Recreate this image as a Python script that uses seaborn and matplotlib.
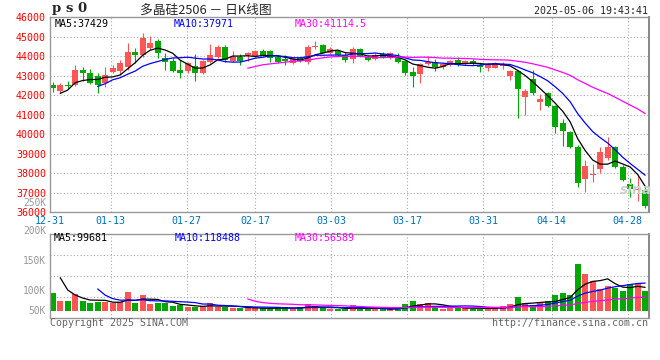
import numpy as np
import pandas as pd
import matplotlib
matplotlib.use("Agg")
import matplotlib.pyplot as plt
import seaborn as sns

# ---------------- data ----------------
holidays = ['2025-01-01', '2025-01-28', '2025-01-29', '2025-01-30', '2025-01-31',
            '2025-02-03', '2025-02-04', '2025-04-04', '2025-05-01', '2025-05-02', '2025-05-05']
_days = pd.bdate_range('2024-12-31', '2025-05-06')
dates = [d.strftime('%m-%d') for d in _days if d.strftime('%Y-%m-%d') not in holidays]

opens = [42536, 42212, 42520, 42518, 43286, 43116, 42981, 42604, 43201, 43252,
         43424, 44227, 44056, 44398, 44773, 43919, 43765, 43286, 43252, 43492,
         43150, 43696, 43935, 44480, 43764, 43935, 44054, 44020, 44259, 44259,
         43935, 43850, 43628, 43884, 43713, 44446, 44549, 44173, 44259, 44054,
         43833, 44361, 43969, 43833, 44105, 43884, 43884, 43747, 43200, 43064,
         43610, 43713, 43423, 43542, 43798, 43610, 43764, 43542, 43406, 43406,
         43491, 42996, 43235, 41920, 42825, 41630, 42091, 41442, 40589, 40111,
         39360, 37705, 37927, 38217, 38797, 39360, 38336, 37449, 37124, 37141]
highs = [42690, 42604, 42720, 43543, 43424, 43320, 43116, 43424, 43543, 43799,
         44654, 44432, 45200, 45030, 44859, 44142, 43885, 43799, 43714, 44088,
         43798, 44617, 44566, 44566, 44276, 44105, 44224, 44310, 44361, 44293,
         44054, 44054, 43884, 43969, 44566, 44771, 44600, 44446, 44327, 44224,
         44480, 44429, 44054, 44139, 44190, 44190, 44139, 43798, 43423, 43628,
         44003, 43833, 43628, 43798, 43935, 43798, 43833, 43628, 43628, 43713,
         43713, 43286, 43286, 42313, 43286, 42040, 42142, 41493, 40760, 40162,
         39445, 38677, 38472, 39326, 39855, 39394, 38421, 37739, 37875, 37312]
lows = [42177, 42092, 42300, 42468, 42724, 42570, 42092, 42400, 43116, 43031,
        43286, 43628, 43970, 44312, 43885, 43286, 43201, 42894, 43116, 42740,
        43081, 43628, 43900, 43713, 43696, 43542, 43764, 43969, 44020, 43713,
        43628, 43542, 43594, 43713, 43594, 44344, 44139, 44105, 44003, 43713,
        43662, 43969, 43747, 43798, 43884, 43833, 43628, 43030, 42432, 42637,
        43542, 43235, 43320, 43508, 43491, 43542, 43525, 43200, 43252, 43372,
        43320, 42774, 40811, 40982, 42006, 41238, 41374, 40043, 39411, 39275,
        37312, 37056, 37568, 37995, 38677, 38251, 37619, 36800, 36595, 36237]
closes = [42382, 42502, 42450, 43286, 43116, 42638, 42518, 43014, 43372, 43628,
          44210, 44073, 44927, 44654, 44176, 43714, 43252, 43150, 43628, 43150,
          43764, 44054, 44446, 43798, 43935, 43764, 44139, 44259, 44054, 43900,
          43713, 43747, 43850, 43764, 44446, 44515, 44173, 44344, 44054, 43798,
          44344, 44020, 43798, 44071, 43969, 44139, 43713, 43150, 42996, 43576,
          43713, 43457, 43576, 43764, 43542, 43747, 43576, 43457, 43542, 43662,
          43576, 43235, 42313, 42228, 42091, 41801, 41442, 40384, 40162, 39360,
          37517, 38387, 37961, 39104, 39360, 38302, 37653, 37176, 37192, 36322]
volumes = [76700, 42000, 42000, 72000, 42000, 33000, 39000, 39000, 32000, 39000,
           81000, 33000, 68000, 29000, 33000, 33000, 20000, 23000, 14500, 16000,
           20000, 33000, 16000, 16000, 13000, 13000, 10000, 10000, 10000, 10000,
           14500, 14500, 7000, 14500, 29000, 19000, 10000, 7000, 7000, 7000,
           24600, 7000, 7000, 7000, 7000, 6000, 14500, 29000, 42000, 29000,
           33000, 14500, 9000, 12000, 12000, 12000, 9000, 9000, 9000, 14500,
           19000, 29000, 59000, 33000, 25000, 33000, 40000, 68000, 77000, 68000,
           202600, 159000, 129000, 94000, 107000, 97000, 85000, 118000, 122000, 85000]
# sessions before the first shown day (12-26, 12-27, 12-30), used only for the moving averages
pre_close = [41600, 41400, 42560]
pre_volume = [309000, 182000, 107000]

tick_labels = ['12-31', '01-13', '01-27', '02-17', '03-03', '03-17', '03-31', '04-14', '04-28']

title_text = '多晶硅2506 － 日K线图'
code_text = 'p s 0'
time_text = '2025-05-06 19:43:41'
ma_price_text = ['MA5:37429', 'MA10:37971', 'MA30:41114.5']
ma_vol_text = ['MA5:99681', 'MA10:118488', 'MA30:56589']
vol_axis_labels = ['250K', '200K', '150K', '100K', '50K']

# ---------------- derived ----------------
n = len(closes)
x = np.arange(n)
full_close = pd.Series(pre_close + closes, dtype=float)
full_vol = pd.Series(pre_volume + volumes, dtype=float)
k0 = len(pre_close)
ma_p = {w: full_close.rolling(w).mean().iloc[k0:].to_numpy() for w in (5, 10, 30)}
ma_v = {w: full_vol.rolling(w).mean().iloc[k0:].to_numpy() for w in (5, 10, 30)}

o = np.array(opens, float); c = np.array(closes, float)
h = np.array(highs, float); l = np.array(lows, float)
up = c >= o
RED, GREEN = '#FF5555', '#00A800'
cols = np.where(up, RED, GREEN)

# ---------------- figure ----------------
sns.set_style('white')
plt.rcParams['font.family'] = ['DejaVu Sans Mono', 'Noto Sans CJK SC']
W, H = 660, 360
fig = plt.figure(figsize=(W / 100, H / 100), dpi=100)

def rect(l_px, t_px, r_px, b_px):
    return [l_px / W, 1 - b_px / H, (r_px - l_px) / W, (b_px - t_px) / H]

ax = fig.add_axes(rect(50, 17, 649.3, 212.3))
axv = fig.add_axes(rect(50, 234.3, 649.3, 318.3))

XL = (-0.36, 79.55)
grid_step = 7.6 / 7.5
tick_idx = [dates.index(t) for t in tick_labels]
tick_x = [i * grid_step - 0.36 for i in tick_idx]
grid_kw = dict(color='#aaaaaa', lw=0.8, ls=(0, (1, 2)), zorder=0)

# --- price panel ---
ax.vlines(x, l, h, colors=cols, lw=0.8, zorder=2)
body_h = np.maximum(np.abs(c - o), 45)
ax.bar(x, body_h, bottom=np.minimum(o, c), width=0.78, color=cols, linewidth=0, zorder=3)
for w, colr in ((5, 'black'), (10, '#0000FF'), (30, '#FF00FF')):
    sns.lineplot(x=x, y=ma_p[w], ax=ax, color=colr, lw=0.9, legend=False, zorder=4)
ax.set_xlim(*XL)
ax.set_ylim(36000, 46000)
ax.set_yticks(range(36000, 46001, 1000))
ax.set_yticklabels([str(v) for v in range(36000, 46001, 1000)], color='#FF0000', fontsize=7.2)
for yv in range(37000, 46000, 1000):
    ax.axhline(yv, **grid_kw)
for tx in tick_x[1:]:
    ax.axvline(tx, **grid_kw)
ax.set_xticks(tick_x)
ax.set_xticklabels(tick_labels, color='#0070C0', fontsize=7.2)
ax.tick_params(axis='both', length=0, pad=3)
ax.set_xlabel(''); ax.set_ylabel('')

# --- volume panel ---
axv.bar(x, volumes, width=0.78, color=cols, linewidth=0, zorder=3)
for w, colr in ((5, 'black'), (10, '#0000FF'), (30, '#FF00FF')):
    sns.lineplot(x=x, y=ma_v[w], ax=axv, color=colr, lw=0.9, legend=False, zorder=4)
axv.set_xlim(*XL)
vlo, vhi = -32984, 331576
axv.set_ylim(vlo, vhi)
for q in (0.25, 0.5, 0.75):
    axv.axhline(vlo + (vhi - vlo) * q, **grid_kw)
for tx in tick_x[1:]:
    axv.axvline(tx, **grid_kw)
axv.set_xticks([]); axv.set_yticks([])
axv.set_xlabel(''); axv.set_ylabel('')

for a in (ax, axv):
    for s in a.spines.values():
        s.set_color('#999999'); s.set_linewidth(1.0)
        s.set_zorder(5)
    a.spines['right'].set_color('#888888'); a.spines['right'].set_linewidth(1.4)

# --- texts ---
def ftext(xp, yp, s, **kw):
    fig.text(xp / W, 1 - yp / H, s, **kw)

mono = dict(fontsize=7.2, va='center')
ftext(52, 8.5, code_text, fontsize=9.5, fontweight='bold', va='center', family=['DejaVu Serif'])
ftext(206, 10, title_text, fontsize=9.2, ha='center', va='center',
      family=['Noto Sans CJK SC', 'DejaVu Sans'])
ftext(648, 11.5, time_text, ha='right', **mono)
for xp, s, colr in zip((55, 174, 295), ma_price_text, ('black', '#0000FF', '#FF00FF')):
    ftext(xp, 24, s, color=colr, **mono)
for xp, s, colr in zip((54, 175, 295), ma_vol_text, ('black', '#0000FF', '#FF00FF')):
    ftext(xp, 238, s, color=colr, **mono)
for yp, s in zip((202.5, 231, 260.7, 291, 311), vol_axis_labels):
    ftext(46, yp, s, color='#999999', ha='right', fontsize=6.9, va='center')
ftext(50, 323.5, 'Copyright 2025 SINA.COM', color='#666666', **mono)
ftext(648, 323.5, 'http://finance.sina.com.cn', color='#666666', ha='right', **mono)
ftext(636, 194, 'sina', color='#cfcfcf', fontsize=10, fontweight='bold', style='italic',
      ha='center', family=['DejaVu Sans'])

fig.savefig('out.png', dpi=100)
